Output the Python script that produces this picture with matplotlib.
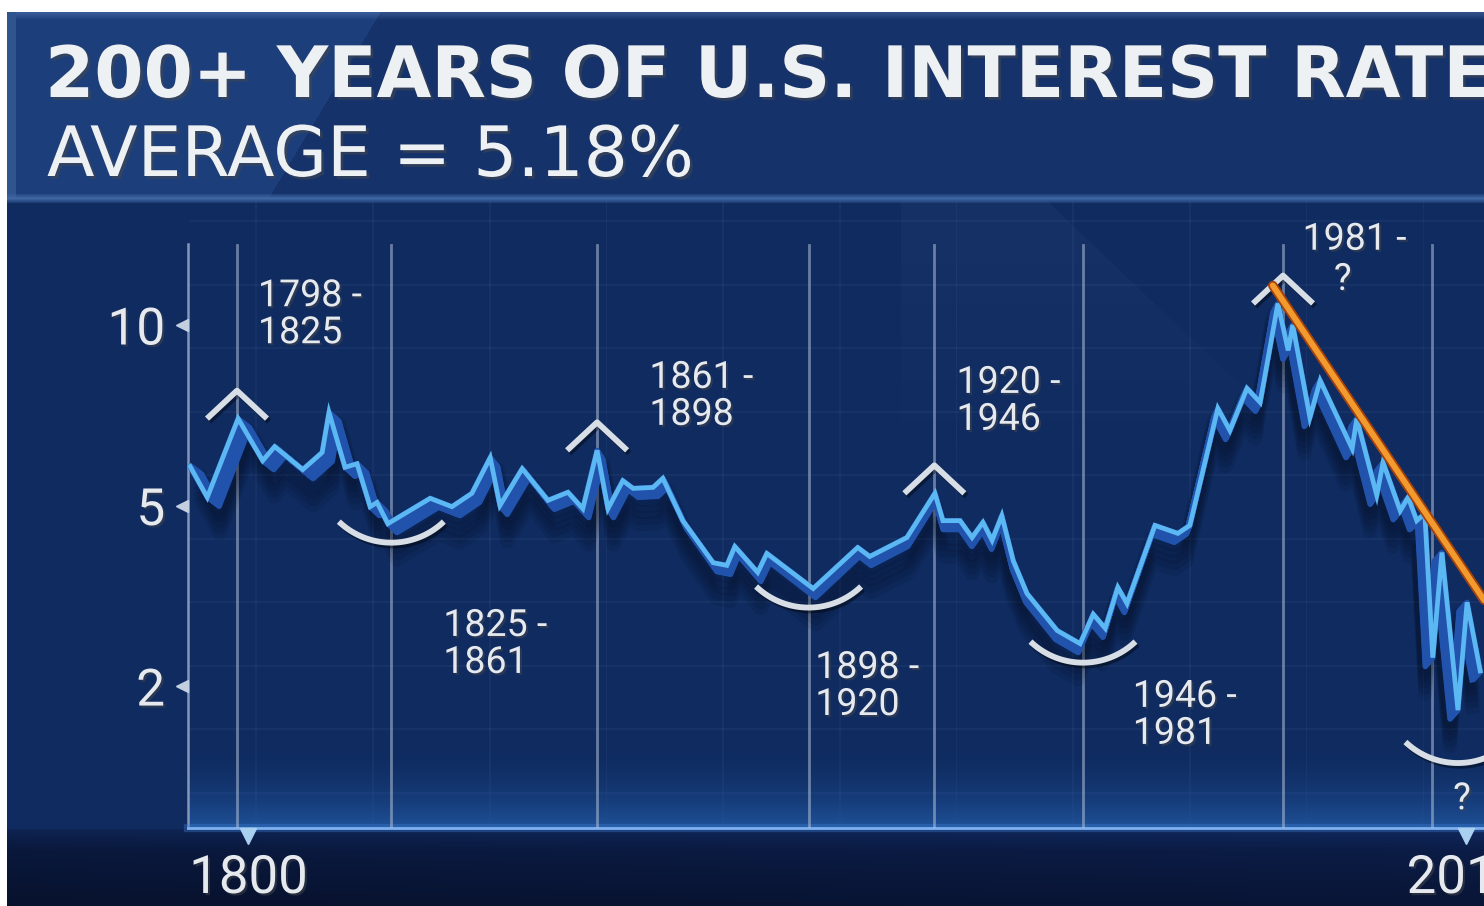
import numpy as np
import matplotlib.pyplot as plt
import matplotlib.patheffects as pe
from matplotlib.path import Path
from matplotlib.transforms import blended_transform_factory

# ---- data ----
years = [1789.8, 1792.8, 1798.2, 1802.5, 1804.6, 1809.5, 1812.9, 1814.1, 1816.9, 1819.0,
         1821.3, 1822.5, 1824.4, 1831.8, 1835.6, 1839.1, 1842.3, 1844.0, 1847.9, 1852.4,
         1855.9, 1858.5, 1861.0, 1862.9, 1865.5, 1867.3, 1870.8, 1872.5, 1876.0, 1881.3,
         1883.7, 1885.1, 1889.1, 1890.7, 1898.8, 1906.6, 1908.7, 1915.2, 1920.1, 1921.5,
         1924.5, 1926.6, 1928.5, 1930.1, 1931.8, 1933.8, 1936.2, 1941.5, 1945.5, 1947.8,
         1949.9, 1952.1, 1953.7, 1958.6, 1962.6, 1964.7, 1969.6, 1971.7, 1974.7, 1977.0,
         1980.1, 1981.9, 1982.7, 1985.7, 1987.5, 1993.1, 1993.9, 1997.4, 1998.5, 2001.5,
         2002.9, 2004.4, 2005.8, 2007.2, 2008.8, 2011.6, 2013.2, 2015.5]
rates = [5.81, 5.16, 6.98, 5.94, 6.27, 5.74, 6.13, 7.15, 5.79, 5.87,
         4.97, 5.06, 4.56, 5.14, 4.97, 5.24, 6.01, 5.00, 5.76, 5.10,
         5.26, 4.92, 6.18, 4.92, 5.50, 5.34, 5.36, 5.55, 4.63, 3.74,
         3.69, 4.06, 3.56, 3.92, 3.28, 4.04, 3.86, 4.25, 5.24, 4.63,
         4.63, 4.25, 4.59, 4.19, 4.75, 3.78, 3.20, 2.65, 2.48, 2.88,
         2.68, 3.30, 3.04, 4.52, 4.34, 4.52, 7.26, 6.67, 7.84, 7.43,
         10.86, 9.07, 10.0, 7.01, 8.08, 6.22, 6.98, 5.20, 5.90, 4.87,
         5.16, 4.63, 4.80, 2.31, 3.94, 1.77, 3.06, 2.16]

era_years = [1798, 1825, 1861, 1898, 1920, 1946, 1981, 2007]
era_labels = ['1798 -\n1825', '1825 -\n1861', '1861 -\n1898', '1898 -\n1920',
              '1920 -\n1946', '1946 -\n1981', '1981 -']
turn_years = [1798, 1825, 1861, 1898, 1920, 1946, 1981, 2011.6]
turn_rates = [6.98, 4.56, 6.18, 3.28, 5.24, 2.48, 10.86, 1.49]
turn_kinds = ['peak', 'trough', 'peak', 'trough', 'peak', 'trough', 'peak', 'trough']
trend_years = [1979.2, 2016.2]
trend_rates = [11.64, 3.09]
y_ticks = [2, 5, 10]
x_ticks = [1800, 2013]
x_tick_labels = ['1800', '2013']
title = '200+ YEARS OF U.S. INTEREST RATES'
subtitle = 'AVERAGE = 5.18%'

W, H = 1484, 906
TXT = '#e6eaef'
plt.rcParams['font.family'] = ['Roboto', 'DejaVu Sans']


# the chart's y axis puts 10, 5 and 2 at equal steps
L2, L5, L10 = np.log(2), np.log(5), np.log(10)


def fwd(v):
    lv = np.log(np.clip(np.asarray(v, float), 1e-6, None))
    return np.where(lv <= L5, (lv - L2) / (L5 - L2), 1 + (lv - L5) / (L10 - L5))


def inv(p):
    p = np.clip(np.asarray(p, float), -50, 50)
    return np.where(p <= 1, np.exp(L2 + p * (L5 - L2)), np.exp(L5 + (p - 1) * (L10 - L5)))


def rgb(h):
    return np.array([int(h[i:i + 2], 16) for i in (1, 3, 5)]) / 255


# ---- background picture ----
yy, xx = np.mgrid[0:H, 0:W].astype(float)
bg = np.empty((H, W, 3))
bg[:] = rgb('#0f2b60')
chart = (yy > 200) & (yy < 828) & (xx > 188)
grid_h = ((yy - 347) % 63.5 < 1.6) & chart
grid_v = ((xx - 255) % 116.7 < 1.6) & chart
bg[grid_h] += 0.03
bg[grid_v] += 0.03
wedge = (yy > 200) & (yy < 460) & (xx > 900) & ((yy - 280) * 1.05 - (xx - 1130) > 0)
bg[wedge] += 0.02 * np.clip((460 - yy[wedge]) / 200, 0, 1)[:, None]
glow = (yy > 740) & (yy <= 828) & (xx > 188)
w = ((yy[glow] - 740) / 88) ** 2
bg[glow] = bg[glow] * (1 - w[:, None]) + rgb('#1f5299') * w[:, None]
below = yy > 828
t = ((yy[below] - 828) / 78)[:, None]
bg[below] = rgb('#0c1f4d') * (1 - t) + rgb('#091535') * t
bg[below] *= (0.85 + 0.15 * xx[below] / W)[:, None]
under = (yy > 828) & (yy < 850)
bg[under] += (0.08 * (1 - (yy[under] - 828) / 22))[:, None] * rgb('#3a7ad0')
band = (yy >= 12) & (yy < 198)
left = band & (xx < 380 - (yy - 12) * 0.6)
bg[band] = rgb('#15326a')
bg[left] = rgb('#1c3f7b')
edge = band & (yy < 20)
bg[edge] += (0.12 * (1 - (yy[edge] - 12) / 8))[:, None]
bg[band & (xx < 16)] = rgb('#2f548e')
stripe = (yy >= 194) & (yy < 203)
bg[stripe] = rgb('#3f67a3') * (1 - np.abs(yy[stripe] - 198)[:, None] / 6) + \
    bg[stripe] * (np.abs(yy[stripe] - 198)[:, None] / 6)
bg[yy < 12] = 1.0
bg[:, :7] = 1.0
bg = np.clip(bg, 0, 1)

fig = plt.figure(figsize=(W / 100, H / 100), dpi=100)
bg_ax = fig.add_axes([0, 0, 1, 1], zorder=-1)
bg_ax.imshow(bg, aspect='auto', interpolation='bilinear')
bg_ax.axis('off')

ax = fig.add_axes([188 / W, (H - 828) / H, (W - 188) / W, 628 / H])
ax.set_facecolor('none')
ax.set_yscale('function', functions=(fwd, inv))
ax.set_xlim(1789.43, 2016.16)
ax.set_ylim(0.973, 16.16)
for s in ax.spines.values():
    s.set_visible(False)

# axis lines
ax.plot([0, 0], [0, 0.93], transform=ax.transAxes, color='#8497bb', lw=1.8,
        clip_on=False, zorder=1)
ax.plot([0, 1], [0, 0], transform=ax.transAxes, color='#3f7fd6', lw=6, alpha=0.35,
        clip_on=False, zorder=1)
ax.plot([0, 1], [0, 0], transform=ax.transAxes, color='#7fb0ef', lw=2,
        clip_on=False, zorder=1)

for yr in era_years:
    ax.axvline(yr, ymin=0, ymax=0.928, color='#b3c1d8', alpha=0.55, lw=2, zorder=1)

# ticks
ax.set_yticks(y_ticks, [str(v) for v in y_ticks])
ax.set_xticks(x_ticks, x_tick_labels)
ax.yaxis.set_minor_locator(plt.NullLocator())
ax.tick_params(axis='y', length=0, pad=16.5, labelsize=37, labelcolor=TXT)
ax.tick_params(axis='x', length=0, pad=18, labelsize=38, labelcolor=TXT)
for lab in ax.get_xticklabels() + ax.get_yticklabels():
    lab.set_path_effects([pe.withSimplePatchShadow(offset=(1.5, -1.5), alpha=0.5)])
bt = blended_transform_factory(ax.transAxes, ax.transData)
ax.plot([-0.0048] * len(y_ticks), y_ticks, transform=bt, ls='none', marker='<', ms=8,
        color='#c4d0e0', clip_on=False, zorder=2)
bt2 = blended_transform_factory(ax.transData, ax.transAxes)
ax.plot(x_ticks, [-0.013] * len(x_ticks), transform=bt2, ls='none', marker='v', ms=12,
        color='#a9d0ee', clip_on=False, zorder=2)

# extruded ribbon + shadow behind the line
pts = ax.transData.transform(np.column_stack([years, rates]))
dx = -0.016 * (pts[:, 0] - 960)
back = ax.transData.inverted()
for off in [12, 18, 24, 30, 36]:
    sh = back.transform(np.column_stack([pts[:, 0] + dx, pts[:, 1] - off]))
    ax.plot(sh[:, 0], sh[:, 1], color='black', alpha=0.08, lw=10, zorder=2)
for f in np.linspace(0, 1, 20):
    sh = back.transform(np.column_stack([pts[:, 0] + f * dx, pts[:, 1] - f * 9]))
    ax.plot(sh[:, 0], sh[:, 1], color='#2153ad', lw=3.8, zorder=3)
ax.plot(years, rates, color='#5cb8f3', lw=3.4, zorder=4, solid_joinstyle='miter')

# turning-point marks
chev = Path([(-30, 0), (0, 28), (30, 0)], [Path.MOVETO, Path.LINETO, Path.LINETO])
th = np.linspace(-0.763, 0.763, 40)
arc = Path(np.column_stack([76 * np.sin(th), -76 * np.cos(th) + 57]))
for yr, rt, kind in zip(turn_years, turn_rates, turn_kinds):
    m, ms = (chev, 2 * 30 * 0.72) if kind == 'peak' else (arc, 2 * 52.5 * 0.72)
    ax.plot([yr], [rt], ls='none', marker=m, ms=ms, mfc='none', mec='#d8dee5', mew=4.2,
            zorder=5, clip_on=False,
            path_effects=[pe.SimpleLineShadow(offset=(1.5, -2), alpha=0.4), pe.Normal()])

ax.plot(trend_years, trend_rates, color='#f29a2e', lw=4.2, solid_capstyle='round', zorder=6,
        path_effects=[pe.Stroke(linewidth=6.8, foreground='#a2410c'), pe.Normal()])

# era labels
label_pos = [(0.054, 0.877), (0.197, 0.352), (0.356, 0.747), (0.484, 0.285),
             (0.593, 0.739), (0.729, 0.239), (0.860, 0.967)]
shadow = [pe.withSimplePatchShadow(offset=(1.5, -1.5), alpha=0.5)]
for lab, (px, py) in zip(era_labels, label_pos):
    ax.text(px, py, lab, transform=ax.transAxes, ha='left', va='top', fontsize=27,
            color=TXT, linespacing=1.0, zorder=7, path_effects=shadow)
ax.text(0.891, 0.903, '?', transform=ax.transAxes, ha='center', va='top', fontsize=27,
        color=TXT, zorder=7, path_effects=shadow)
ax.text(0.983, 0.076, '?', transform=ax.transAxes, ha='center', va='top', fontsize=27,
        color=TXT, zorder=7, path_effects=shadow, clip_on=False)

# heading
head_fx = [pe.withSimplePatchShadow(offset=(2, -2), alpha=0.5)]
fig.text(45 / W, 1 - 97 / H, title, ha='left', va='baseline', fontsize=51,
         family='DejaVu Sans', fontweight='bold', color='#eef1f4', path_effects=head_fx)
fig.text(47 / W, 1 - 176 / H, subtitle, ha='left', va='baseline', fontsize=50,
         family='DejaVu Sans', color='#eef1f4', path_effects=head_fx)

fig.savefig('out.png', dpi=100)
